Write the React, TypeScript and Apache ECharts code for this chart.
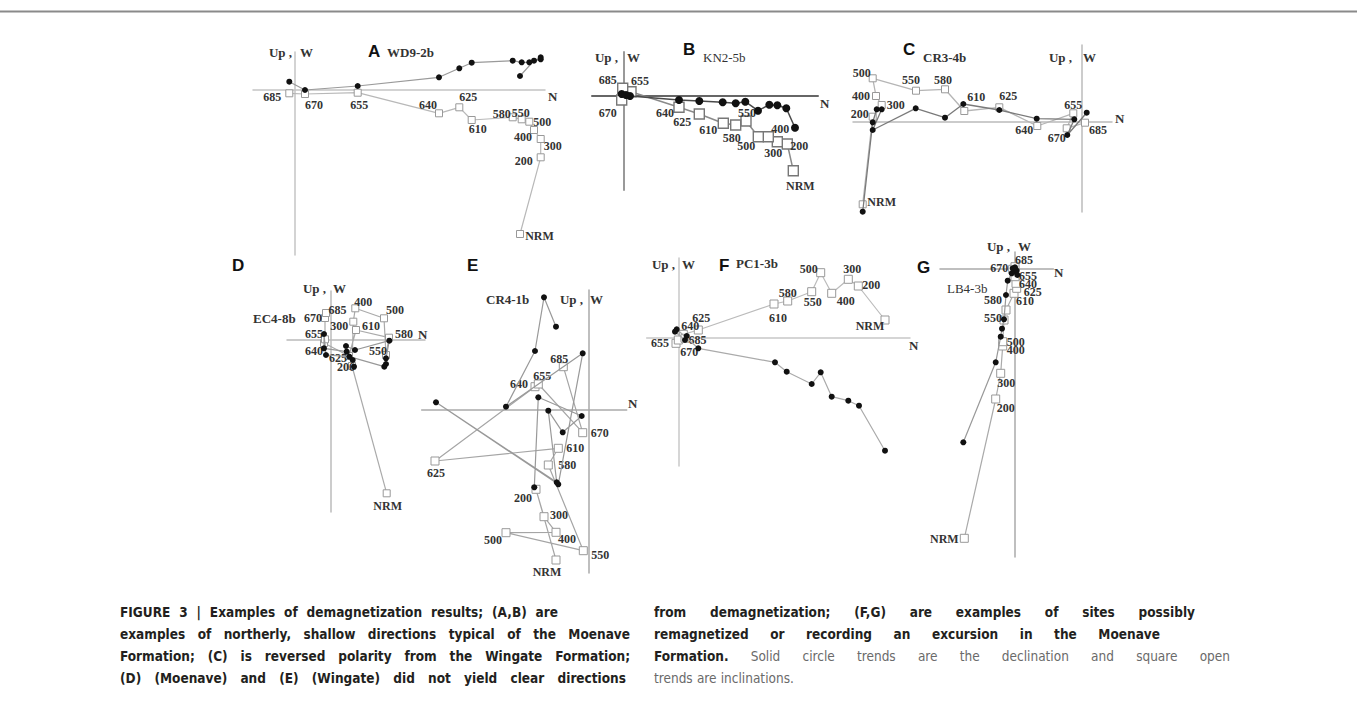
import React, { useEffect, useRef } from "react";
import * as echarts from "echarts";

// Demagnetization steps (same order for every panel)
const steps = ["NRM", "200", "300", "400", "500", "550", "580", "610", "625", "640", "655", "670", "685"];

// Panel A  WD9-2b  (x = N, y = Up/W, arbitrary units)
const aSquares = [[225, -144], [245.7, -67.3], [245.7, -49], [239, -40], [234.3, -31.7], [226.7, -29.3], [217.7, -27.3], [176.7, -30], [164.3, -17.3], [144, -23.3], [62.7, -2.7], [10, -4], [-5.7, -3.3]];
const aCircles = [[225, 14], [239, 29.3], [245.7, 32.7], [245.7, 30.7], [234.3, 27.7], [226.7, 27.7], [217.7, 29.3], [176.7, 27.3], [164.3, 21.7], [144, 12.7], [62.7, 4], [10, 0], [-5.7, 8.3]];
// Panel B  KN2-5b
const bSquares = [[170, -74.7], [164, -48], [154, -45.7], [145, -40.7], [135, -40.7], [122.7, -25], [112.4, -29], [100, -27.3], [76, -18], [55.7, -11.3], [7.7, 4.3], [-1.6, -4], [-0.6, 7.7]];
const bCircles = [[171.7, -31.7], [163, -12.3], [154, -9.3], [146, -8.7], [134.7, -14.7], [122, -5.7], [112.4, -7.3], [99.4, -6.3], [76, -5], [55.7, -4], [6.7, 0], [2.7, 1], [-1.6, 2]];
// Panel C  CR3-4b
const cSquares = [[-219, -82.6], [-209, 5], [-200, 16.7], [-205.7, 25.7], [-209, 43.4], [-165.7, 31], [-136.7, 32.4], [-117.4, 10.7], [-82.4, 14.4], [-44.4, -4.3], [-8.4, 8.4], [-15, -6.6], [3.3, -1]];
const cCircles = [[-219, -90], [-209, -0.6], [-205, 12.4], [-200, 12.4], [-209, -8.3], [-166, 13.4], [-136.7, 4], [-118.4, 17.7], [-82.4, 11.7], [-45, 3], [-7.4, 2.4], [-14.4, -13.3], [5, 9]];
// Panel D  EC4-8b
const dSquares = [[55.7, -154], [21, -26.7], [22.3, 17.6], [24.3, 31], [53, 21], [55, -15.7], [58, 1.6], [25, 9.3], [18, -16.7], [-7, -3.7], [-6, 0], [-6, 21.3], [-5, 26.3]];
const dCircles = [[21.7, -20.7], [23, -27.4], [15, -6.7], [24, -10.7], [58.3, -1.4], [55, -19], [55, -24.7], [53.3, -27.4], [18.3, -17.4], [-5, -15.7], [-7, 5.3], [-7, -9], [15.7, -12.4]];
// Panel E  CR4-1b
const eSquares = [[-32.3, -150], [-52.3, -79.3], [-44.3, -106.7], [-32.3, -122.3], [-82.3, -122.7], [-5, -140.7], [-40, -55], [-30, -38.3], [-153.3, -51], [-53.3, 23.3], [-50, 26], [-5.6, -22.7], [-25, 43.3]];
const eCircles = [[-54, -77.3], [-50, 12.7], [-6.6, -6], [-25.6, -22.3], [-40, -0.7], [-31.6, -72.3], [-152.3, 7.7], [-30, -74.3], [-5.6, 56.7], [-82.3, 3.3], [-53.3, 59], [-44.3, 112.7], [-32.3, 83.3]];
// Panel F  PC1-3b
const fSquares = [[206, 17.3], [179.3, 51.3], [169.3, 58], [152.7, 44], [141.7, 64.6], [132.7, 45.6], [108.7, 36.3], [95, 33.3], [19.3, 7.3], [4.3, 3], [-3, -6], [-0.7, -2.7], [6, -1]];
const fCircles = [[206, -113.4], [180, -68.4], [169.3, -63.4], [152.7, -59.4], [141.7, -35], [132.7, -46.7], [107.7, -34.4], [96, -25], [19.3, -11], [-2.3, 8], [-4, 5.6], [6, -2.7], [7.7, 1.3]];
// Panel G  LB4-3b
const gSquares = [[-50, -269.3], [-18.6, -130], [-13.6, -104.3], [-11.6, -77], [-11.6, -72.7], [-10.3, -51], [-8.3, -41], [-0.3, -24.3], [2.4, -19.3], [1.7, -14.3], [0.7, -7.7], [-1.6, -0.3], [0.7, 2.3]];
const gCircles = [[-51, -173.3], [-18.6, -93.3], [-13.6, -67.7], [-12.3, -59.7], [-10.3, -50.3], [-8.3, -26], [-6.6, -11.7], [-2.6, -4.3], [-0.3, -2.7], [2.4, -1.7], [3, -6], [-1.6, 0.7], [0.7, 1.7]];

// Label placement (pixel offsets of step labels from their square) — style only
const aLab = [[19.5, 2], [-17, 4], [12, 7], [-11, 7], [13, 0], [-1, -6], [-11, -3], [6, 9], [9, -10], [-11, -8], [1.5, 12], [9, 11], [-17, 4]];
const bLab = [[7, 15], [12, 2], [-4, 11], [12, -8], [-12, 9], [1, -8], [-4, 13], [-15, 7], [-17, 8], [-14, 6], [9, -11], [-14, 13], [-15, -8]];
const cLab = [[19, -2], [-13, -3], [14, 0], [-15, 0], [-11, -5], [-5, -11], [-2, -9], [12, -14], [9, -11], [-13, 4], [0, -8], [-10, 10], [13, 7]];
const dLab = [[1, 13], [-6, 1], [-14, 4], [8, -6], [11, -8], [-8, -4], [15, -4], [15, -4], [-11, 2], [-10, 8], [-11, -5], [-12, 0], [11.5, -3]];
const eLab = [[-9, 12], [-13, 9], [15, -2], [11, 7], [-13, 7], [17, 4], [19, 0], [17, 0], [1, 12], [-16, -3], [4, -8], [17, 0], [-4, -8]];
const fLab = [[-15, 6], [13, -1], [4, -10], [14, 8], [-12, -4], [1, 10], [0, -8], [4, 14], [3, -12], [7, -8], [-16, 0], [11, 12], [12.5, 2]];
const gLab = [[-20, 1], [10, 9], [5.5, 10], [13, 4], [13, 0], [-11, -2], [-13, -10], [11, 8], [16, 4], [12, 1], [13, -1], [-13.5, -1], [9, -7]];

const captionLeft = [
  "FIGURE 3 | Examples of demagnetization results; (A,B) are",
  "examples of northerly, shallow directions typical of the Moenave",
  "Formation; (C) is reversed polarity from the Wingate Formation;",
  "(D) (Moenave) and (E) (Wingate) did not yield clear directions",
];
const captionRightBold = [
  "from demagnetization; (F,G) are examples of sites possibly",
  "remagnetized or recording an excursion in the Moenave",
  "Formation.",
  "",
];
const captionRightRegular = ["", "", "Solid circle trends are the declination and square open", "trends are inclinations."];

const SERIF = '"Liberation Serif", "Times New Roman", serif';
const SANS = '"Liberation Sans", Arial, sans-serif';
const COND = '"DejaVu Sans Condensed", "Liberation Sans Narrow", "Liberation Sans", sans-serif';

const panels = [
  { key: "A", site: "WD9-2b", siteBold: true, sq: aSquares, ci: aCircles, lab: aLab, ox: 295, oy: 90, xl: 253, xr: 545, yt: 52, yb: 255, letter: [368, 51], siteXY: [387, 52], upEnd: 292, wStart: 300, upY: 52, nXY: [548, 96], xCol: "#c4c4c4", yCol: "#c4c4c4", aw: 1.5, sqSize: 7, ciSize: 6, sqLine: "#b8b8b8", ciLine: "#9a9a9a", sqBorder: "#999", sqBW: 1, lw: 1.2 },
  { key: "B", site: "KN2-5b", siteBold: false, sq: bSquares, ci: bCircles, lab: bLab, ox: 623.3, oy: 96, xl: 592, xr: 818, yt: 52, yb: 190, letter: [683, 49], siteXY: [703, 57], upEnd: 618, wStart: 627, upY: 57, nXY: [820, 103], xCol: "#666", yCol: "#999", aw: 2, sqSize: 10, ciSize: 8, sqLine: "#8a8a8a", ciLine: "#4a4a4a", sqBorder: "#777", sqBW: 1.4, lw: 1.5 },
  { key: "C", site: "CR3-4b", siteBold: true, sq: cSquares, ci: cCircles, lab: cLab, ox: 1081.7, oy: 121.7, xl: 853, xr: 1112, yt: 45, yb: 212, letter: [903, 49], siteXY: [923, 57], upEnd: 1072, wStart: 1083, upY: 57, nXY: [1115, 118], xCol: "#bbb", yCol: "#bbb", aw: 1.5, sqSize: 7, ciSize: 6, sqLine: "#b5b5b5", ciLine: "#7a7a7a", sqBorder: "#999", sqBW: 1, lw: 1.3 },
  { key: "D", site: "EC4-8b", siteBold: true, sq: dSquares, ci: dCircles, lab: dLab, ox: 331, oy: 339.3, xl: 287, xr: 425, yt: 291, yb: 512, letter: [232, 265], siteXY: [253, 318], upEnd: 326, wStart: 333, upY: 288, nXY: [418, 334], xCol: "#bbb", yCol: "#bbb", aw: 1.5, sqSize: 7, ciSize: 6, sqLine: "#aaa", ciLine: "#999", sqBorder: "#999", sqBW: 1, lw: 1.2 },
  { key: "E", site: "CR4-1b", siteBold: true, sq: eSquares, ci: eCircles, lab: eLab, ox: 588.3, oy: 410, xl: 421.7, xr: 626.7, yt: 290, yb: 573, letter: [467, 265], siteXY: [486, 299], upEnd: 583, wStart: 590, upY: 299, nXY: [628, 403], xCol: "#aaa", yCol: "#aaa", aw: 1.5, sqSize: 8, ciSize: 6, sqLine: "#a5a5a5", ciLine: "#999", sqBorder: "#999", sqBW: 1, lw: 1.2 },
  { key: "F", site: "PC1-3b", siteBold: true, sq: fSquares, ci: fCircles, lab: fLab, ox: 679, oy: 337.3, xl: 646.7, xr: 910, yt: 258, yb: 466, letter: [719, 265], siteXY: [736, 263], upEnd: 675, wStart: 682, upY: 264, nXY: [909, 345], xCol: "#c8c8c8", yCol: "#c8c8c8", aw: 1.5, sqSize: 8, ciSize: 6, sqLine: "#bbb", ciLine: "#aaa", sqBorder: "#999", sqBW: 1, lw: 1.2 },
  { key: "G", site: "LB4-3b", siteBold: false, sq: gSquares, ci: gCircles, lab: gLab, ox: 1014.3, oy: 269, xl: 940, xr: 1053.3, yt: 252, yb: 557, letter: [917, 267], siteXY: [947, 288], upEnd: 1010, wStart: 1018, upY: 246, nXY: [1054, 272], xCol: "#aaa", yCol: "#aaa", aw: 1.5, sqSize: 8, ciSize: 6, sqLine: "#aaa", ciLine: "#999", sqBorder: "#999", sqBW: 1, lw: 1.2 },
];

function txt(x: number, y: number, text: string, o: any = {}) {
  return {
    type: "text",
    x,
    y,
    silent: true,
    style: {
      text,
      fill: o.fill || "#222",
      fontFamily: o.family || SERIF,
      fontWeight: o.weight || "bold",
      fontSize: o.size || 13,
      align: o.align || "left",
      verticalAlign: "middle",
    },
  };
}

export default function App() {
  const ref = useRef<HTMLDivElement>(null);

  useEffect(() => {
    if (!ref.current) return;
    const chart = echarts.init(ref.current, undefined, { renderer: "svg" });

    const grid = panels.map((p) => ({ left: p.xl, top: p.yt, width: p.xr - p.xl, height: p.yb - p.yt, containLabel: false }));
    const xAxis = panels.map((p, i) => ({
      type: "value",
      gridIndex: i,
      min: p.xl - p.ox,
      max: p.xr - p.ox,
      axisLine: { show: true, onZero: true, lineStyle: { color: p.xCol, width: p.aw } },
      axisTick: { show: false },
      axisLabel: { show: false },
      splitLine: { show: false },
    }));
    const yAxis = panels.map((p, i) => ({
      type: "value",
      gridIndex: i,
      min: p.oy - p.yb,
      max: p.oy - p.yt,
      axisLine: { show: true, onZero: true, lineStyle: { color: p.yCol, width: p.aw } },
      axisTick: { show: false },
      axisLabel: { show: false },
      splitLine: { show: false },
    }));

    const series: any[] = [];
    panels.forEach((p, i) => {
      series.push({
        type: "line",
        name: p.key + " inclination",
        xAxisIndex: i,
        yAxisIndex: i,
        data: p.sq.map((v, j) => ({ value: v, label: { offset: p.lab[j] } })),
        symbol: "rect",
        symbolSize: p.sqSize,
        showAllSymbol: true,
        clip: false,
        z: 2,
        silent: true,
        lineStyle: { color: p.sqLine, width: p.lw },
        itemStyle: { color: "#fff", borderColor: p.sqBorder, borderWidth: p.sqBW },
        label: {
          show: true,
          position: "inside",
          formatter: (q: any) => steps[q.dataIndex],
          fontFamily: SERIF,
          fontWeight: "bold",
          fontSize: 12,
          color: "#333",
        },
        emphasis: { disabled: true },
      });
      series.push({
        type: "line",
        name: p.key + " declination",
        xAxisIndex: i,
        yAxisIndex: i,
        data: p.ci,
        symbol: "circle",
        symbolSize: p.ciSize,
        showAllSymbol: true,
        clip: false,
        z: 3,
        silent: true,
        lineStyle: { color: p.ciLine, width: p.lw },
        itemStyle: { color: "#111" },
        label: { show: false },
        emphasis: { disabled: true },
      });
    });

    const graphic: any[] = [];
    graphic.push({ type: "line", silent: true, shape: { x1: 0, y1: 11.5, x2: 1357, y2: 11.5 }, style: { stroke: "#8a8a8a", lineWidth: 2 } });

    panels.forEach((p) => {
      graphic.push(txt(p.letter[0], p.letter[1], p.key, { family: SANS, size: 17, fill: "#111" }));
      graphic.push(txt(p.siteXY[0], p.siteXY[1], p.site, { weight: p.siteBold ? "bold" : "normal", fill: "#333" }));
      graphic.push(txt(p.upEnd, p.upY, "Up ,", { align: "right", fill: "#333" }));
      graphic.push(txt(p.wStart, p.upY, "W", { fill: "#333" }));
      graphic.push(txt(p.nXY[0], p.nXY[1], "N", { fill: "#333" }));
    });

    // Caption, justified word by word
    const canvas = document.createElement("canvas");
    const ctx = canvas.getContext("2d") as CanvasRenderingContext2D;
    const FS = 13.5;
    const measure = (s: string, bold: boolean) => {
      ctx.font = `${bold ? "bold" : "normal"} ${FS}px ${COND}`;
      return ctx.measureText(s).width;
    };
    const addLine = (segs: { t: string; b: boolean }[], x0: number, y: number, target: number | null) => {
      const words: { w: string; b: boolean }[] = [];
      segs.forEach((s) => s.t.split(" ").filter(Boolean).forEach((w) => words.push({ w, b: s.b })));
      if (!words.length) return;
      const widths = words.map((w) => measure(w.w, w.b));
      const sum = widths.reduce((a, b) => a + b, 0);
      const space = measure(" ", true);
      let gap = target && words.length > 1 ? (target - sum) / (words.length - 1) : space;
      gap = Math.max(gap, space * 0.8);
      let x = x0;
      words.forEach((w, k) => {
        graphic.push(
          txt(x, y, w.w, { family: COND, weight: w.b ? "bold" : "normal", size: FS, fill: w.b ? "#231f20" : "#6a6a6a" })
        );
        x += widths[k] + gap;
      });
    };
    const ys = [611.5, 633.5, 655.5, 677.5];
    const leftTargets = [438, 510, 510, 506];
    const rightTargets: (number | null)[] = [541, 506, 576, null];
    captionLeft.forEach((l, k) => addLine([{ t: l, b: true }], 120, ys[k], leftTargets[k]));
    captionRightBold.forEach((l, k) =>
      addLine([{ t: l, b: true }, { t: captionRightRegular[k], b: false }], 654, ys[k], rightTargets[k])
    );

    chart.setOption({
      animation: false,
      backgroundColor: "#fff",
      grid,
      xAxis,
      yAxis,
      series,
      graphic,
    });

    return () => chart.dispose();
  }, []);

  return <div ref={ref} style={{ position: "absolute", left: 0, top: 0, width: 1357, height: 719 }} />;
}
